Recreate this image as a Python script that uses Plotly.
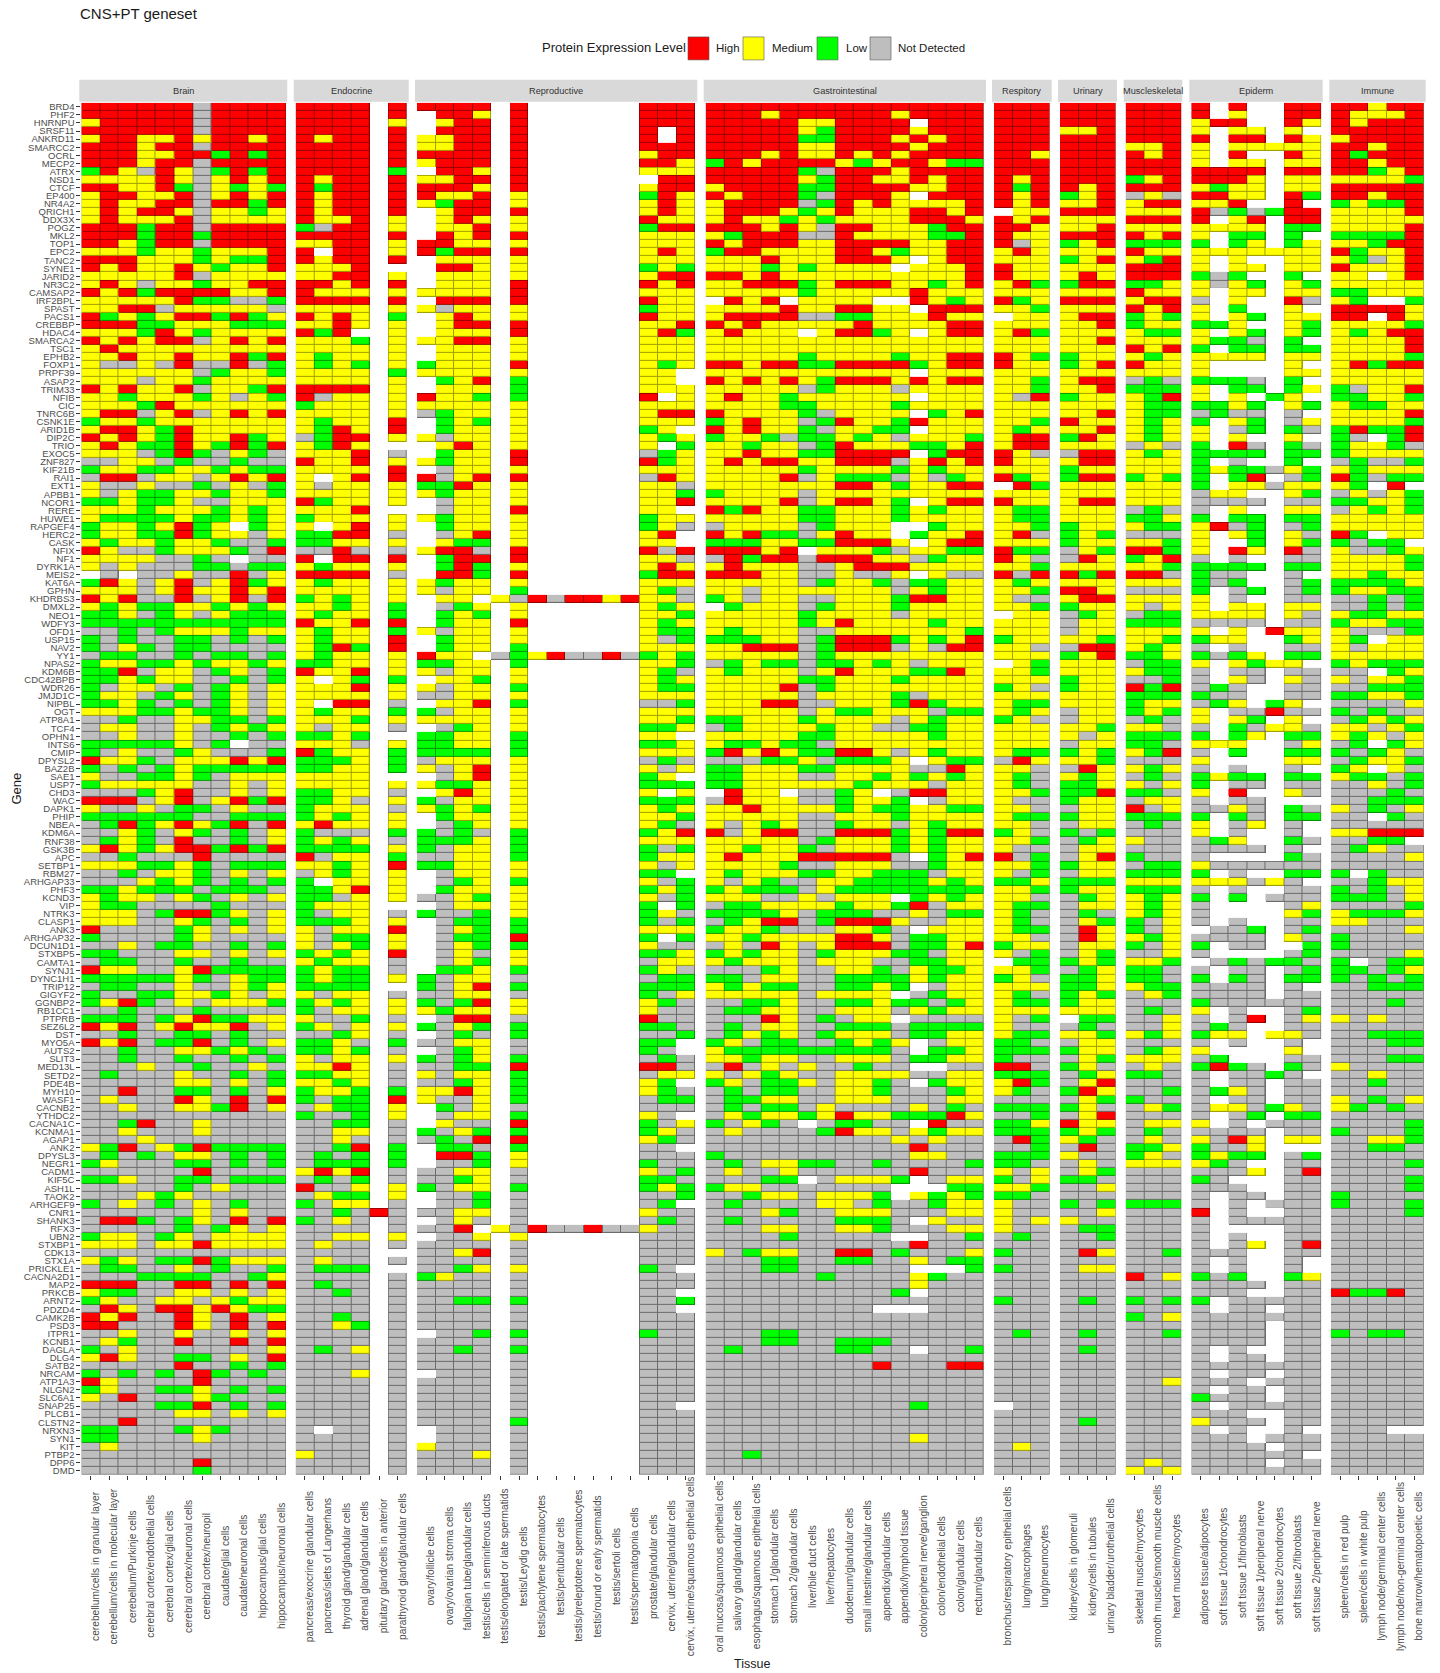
import plotly.graph_objects as go

GENES = """BRD4 PHF2 HNRNPU SRSF11 ANKRD11 SMARCC2 OCRL MECP2 ATRX NSD1 CTCF EP400 NR4A2 QRICH1 DDX3X POGZ MKL2 TOP1 EPC2 TANC2 SYNE1 JARID2 NR3C2 CAMSAP2 IRF2BPL SPAST PACS1 CREBBP HDAC4 SMARCA2 TSC1
EPHB2 FOXP1 PRPF39 ASAP2 TRIM33 NFIB CIC TNRC6B CSNK1E ARID1B DIP2C TRIO EXOC5 ZNF827 KIF21B RAI1 EXT1 APBB1 NCOR1 RERE HUWE1 RAPGEF4 HERC2 CASK NFIX NF1 DYRK1A MEIS2 KAT6A GPHN KHDRBS3 DMXL2 NEO1 WDFY3 OFD1 USP15 NAV2 YY1 NPAS2 KDM6B CDC42BPB WDR26 JMJD1C
NIPBL OGT ATP8A1 TCF4 OPHN1 INTS6 CMIP DPYSL2 BAZ2B SAE1 USP7 CHD3 WAC DAPK1 PHIP NBEA KDM6A RNF38 GSK3B APC SETBP1 RBM27 ARHGAP33 PHF3 KCND3 VIP NTRK3 CLASP1 ANK3 ARHGAP32 DCUN1D1 STXBP5 CAMTA1 SYNJ1 DYNC1H1 TRIP12 GIGYF2 GGNBP2 RB1CC1 PTPRB SEZ6L2 DST MYO5A
AUTS2 SLIT3 MED13L SETD2 PDE4B MYH10 WASF1 CACNB2 YTHDC2 CACNA1C KCNMA1 AGAP1 ANK2 DPYSL3 NEGR1 CADM1 KIF5C ASH1L TAOK2 ARHGEF9 CNR1 SHANK3 RFX3 UBN2 STXBP1 CDK13 STX1A PRICKLE1 CACNA2D1 MAP2 PRKCB ARNT2 PDZD4 CAMK2B PSD3 ITPR1 KCNB1 DAGLA DLG4 SATB2 NRCAM ATP1A3 NLGN2 SLC6A1 SNAP25 PLCB1 CLSTN2 NRXN3 SYN1 KIT PTBP2 DPP6 DMD""".split()

GROUPS = ["Brain", "Endocrine", "Reproductive", "Gastrointestinal", "Respitory", "Urinary", "Muscleskeletal", "Epiderm", "Immune"]

BRAIN_TISSUES = ["cerebellum/cells in granular layer", "cerebellum/cells in molecular layer", "cerebellum/Purkinje cells", "cerebral cortex/endothelial cells", "cerebral cortex/glial cells", "cerebral cortex/neuronal cells", "cerebral cortex/neuropil", "caudate/glial cells", "caudate/neuronal cells", "hippocampus/glial cells", "hippocampus/neuronal cells"]
ENDOCRINE_TISSUES = ["pancreas/exocrine glandular cells", "pancreas/islets of Langerhans", "thyroid gland/glandular cells", "adrenal gland/glandular cells", "pituitary gland/cells in anterior", "parathyroid gland/glandular cells"]
REPRODUCTIVE_TISSUES = ["ovary/follicle cells", "ovary/ovarian stroma cells", "fallopian tube/glandular cells", "testis/cells in seminiferous ducts", "testis/elongated or late spermatids", "testis/Leydig cells", "testis/pachytene spermatocytes", "testis/peritubular cells", "testis/preleptotene spermatocytes", "testis/round or early spermatids", "testis/sertoli cells", "testis/spermatogonia cells", "prostate/glandular cells", "cervix, uterine/glandular cells", "cervix, uterine/squamous epithelial cells"]
GI_TISSUES = ["oral mucosa/squamous epithelial cells", "salivary gland/glandular cells", "esophagus/squamous epithelial cells", "stomach 1/glandular cells", "stomach 2/glandular cells", "liver/bile duct cells", "liver/hepatocytes", "duodenum/glandular cells", "small intestine/glandular cells", "appendix/glandular cells", "appendix/lymphoid tissue", "colon/peripheral nerve/ganglion", "colon/endothelial cells", "colon/glandular cells", "rectum/glandular cells"]
RESP_TISSUES = ["bronchus/respiratory epithelial cells", "lung/macrophages", "lung/pneumocytes"]
URINARY_TISSUES = ["kidney/cells in glomeruli", "kidney/cells in tubules", "urinary bladder/urothelial cells"]
MUSCLE_TISSUES = ["skeletal muscle/myocytes", "smooth muscle/smooth muscle cells", "heart muscle/myocytes"]
EPIDERM_TISSUES = ["adipose tissue/adipocytes", "soft tissue 1/chondrocytes", "soft tissue 1/fibroblasts", "soft tissue 1/peripheral nerve", "soft tissue 2/chondrocytes", "soft tissue 2/fibroblasts", "soft tissue 2/peripheral nerve"]
IMMUNE_TISSUES = ["spleen/cells in red pulp", "spleen/cells in white pulp", "lymph node/germinal center cells", "lymph node/non-germinal center cells", "bone marrow/hematopoietic cells"]
TISSUES = [BRAIN_TISSUES, ENDOCRINE_TISSUES, REPRODUCTIVE_TISSUES, GI_TISSUES, RESP_TISSUES, URINARY_TISSUES, MUSCLE_TISSUES, EPIDERM_TISSUES, IMMUNE_TISSUES]

LEVEL_NAMES = ["High", "Medium", "Low", "Not Detected"]

# One string per gene, groups separated by spaces. H/M/L/N = level, . = no data.
ROW_LEVELS = """
HHHHHHNHHHH HHHH.H HHHH.H......HHH HHHHHHHHHHHHHHH HHH HHH HHH H.H..HH HHMHH
HHHHHHNHHHH HHHH.H .HHM.H......HHH HHHMHHHHHHMHHHH HHH HHH HHH H.M..HH HMMMH
MHHHHHNHHHH HHHH.M .MHH.H......HHH HHHHHMMHHHH.HHH HHH HHH HHH MHH..HM HMHHH
HHHHHHNHHHH HHHH.H .HHH.H......H.H HHHHHMLHHHHMHHH HHH MMH HHH M.MM.M. HHHHH
MHHMMHMHHMH HMHH.H MMHH.H......H.H HHHHHLLHHHMHMHH HHH HHH HHH H.HH.HM MHHHH
HHHMHHNHHHH HHHH.H MMHH.H......HHH HHHHHMMHHHHMHHH HHH HHH MMH M.MMMMM HHMHH
HHHMMHHLHLH HHHH.H HHHH.H......MHH HHHMHMMHMHMHHHH HHM HHH HMH M.H..HM HLHHH
HHHMHHNHHHH HHHH.H MHHH.H......HHM LHMHHHHMLMHHMLL HHH HHH HHH M.MM.MM HHMHH
LHMNHMNLHLH HHHH.L .HHM.H......MMM HHHHHLNHHHMHHHH HHH HHH HHH HHHH.HH HHLMH
MMMMHMNMHMH HMHH.H MMHH.H.......HH HHHHHMLHHMMHMHH HMH HHH LMH HHHM.MM MMMML
HHMMHLNMLML HLHH.H HHHM.H......MHH MHHHHLLHHHHMMHH HLH HMH HHH MLMM.MM HHHHH
MHHMMHNMHMH HMHH.H HMMH.M......LHM HMHHHLNHHHM.HHH HMH LMH NMN HHMM.HL HHMHH
MHMMHHNHHLH HMHH.H MLHH.M......MHM MHHHHNLHMHMMMMH HMH MMH MHH MMH..H. LMLLH
MHMHHMNMMLM HMHH.H .MHH.H......MHM MHHHMLMHMMMHHMH .MM HHH MMM HNLNLHH MMMMH
MHMMMHNMMMM HMMH.M .MHM.M......HMM MHMMLMLMMMMHHHM HMH MMM HHH H.MH.HH MMMMM
HHHLHHNHHHH LNHH.M .MMH.M......LHH HHHMHMNHHMMMLHH HHM MMH MMM MMMM.LL MMMMH
HHHLHHLHHHH HHHH.H .HMH.H......MMM MLHHHNNHMMMMLLH HMM HHH HMH M.LL.L. LLLLH
HHMLHHNHHHH MMHH.M HHMM.M......MMM HMHHHMMHHHHMMHH HNM LMH LLL L.LM.LM MMLHH
MMMLMMLMMMH H.HH.M HLHH.H......MHM LHHMMMMHHMLMMHH MHM MMM HMM MMMMMMM HLMMH
HHHMMMLMLLH HMHH.H .MMM.M......MMM MMMHMMMHHHM.MHH MMM LMH MLH M.M..MM MLNMH
HMHMMHMLMMH MMMH.. .HHM.M......LML MMMLMLMMMM.MMMH HMM MMM HHH M.MM.MM HMMMH
MMMMMHNMMMM MMHH.M .MMM.M......MHH HHMHMMMMMMMMMMH HMM MHM HHH LNL..L. MM.MH
MHMNMMLMMHH HHMH.H .MMM.H......HMH MMHHHLMHHHMMLMH MHL LHH LLM MNML.ML MMMMM
HMHLHHHHMMH HMMM.M MMMM.H......MMM MMMMMLMMMMMHMMM MMM MMM HMM M.MM.MM LLMMM
MMMMMHLLNNL HHHH.H .HHH.H......HMM .HMH.MMMM..HMLM HLM HHH MHH N.M..HN ML..L
MMHHNMMMMMN MMMM.M MNMM.M......LMM MMMMHMMHHMM.HHH MML MMM HMH M.L..M. HHHHM
HLMLMHHLHLM HMHM.L .MHM.M......HMM MHHHHNNLLMMMHMM .MM MHH LML M.ML.MM HH.HM
HHHLLMMMLLL MMHM.M .MHH.H......MMH HMHMMMMMHMMMMHH MMM MMH LMM LLM..ML MMMML
MMMLHMLMMMM HLH..M .MMM.H......MHL MHMMM.MHHLM.MHH MHL MMM MLL M.ML.ML MLMHH
HMHMHHNMHMH MMML.M MMHH.M......MMM MMMMMMMMMMMMMMM MMM MMH MMM MLLN.L. MMMMH
MHMMMMMMMMM MMMM.M .MMM.M......MMM MMMMMMMMMMMMMMM MMM MMM HMH L.LL.LL MMMMH
MMHMMHMMHLH MLMM.M .MMM.M......MMM MMMMMLMMMMLMMHH HML LMM MLM MMMM.MM MMMML
MNNMNHNNHNL MLML.M LMMM.H......MLM HHMHHLLHHHHLMHH HMM LMH HMM M....M. MHLHH
MMMMMMNLMML MMMM.L MMMM.M......MM. MMMMMMMMMMM.MMM MMM MMM MMM M....MM MMMMM
MMMNMMLMMMM MMMM.M .LMH.L......MM. HMHMHMLHHHMHMHH MML MHH NLN LLLN.L. MMMMM
HMHMMHNMMLH HHHH.M .MMM.L......MMM MMMMMNLMMMNMMMM MML MMH LLL M.LL.LM LNMMH
MMLMMMLMNML HNMM.M HMML.L......H.M MHMMLMMMMMM.MMM MNH LMM MLH M.M.LM. LLMML
MMMLHMMMMMM LMMM.M MMMM.M......MMM MMMMLLMMMMLMMMM MMM MMM MLL LLML.ML MLLMM
MHHNMHNMHMH MMMM.M NLMM.M......MHH HMMMMLNMMMM.LMH MMM MMH MLL NLNN.N. MMMMH
LMMLMMMMMMM MLMM.H .LML.M......MMM LMHMMNLHMMLHMMM MML HMM MLM L.ML.NM MMMML
MHHMLHMMMMM MLHM.H .LMM.M......LM. HMHMMLNMMLL.MMM MLM MMH MLM M.NL.LN LHLLH
HMHMLHMMHLM NLHH.M MNMM.M......MLM LMMLNLLMLMNMMML MHH LHM MLM M.M..M. LN.LH
MHMLLHMLHLH MLHM.. .MHM.M......M.L MMLMMNLHMMMLLMH MHH MMM NMN L.HN.LN LMMLN
MMMNLHLNMLN MMMH.N .LMM.H......NLM MMHMMLLHHHH.LHH HMN NHH MLM LLLL.LL LMMMM
NNMMNLNNLNN HMMH.M MLMM.H......HLM MHMHHMMHHHNMHMH HMM MHH MMM L.N..L. NLNNL
LMMLLMMLMLL MMMM.H .NMM.M......MMM MMMMMLMMMMLMLMM MMM LMM MMM LMLLNML MLMMM
NHHNMMNMHMH M.MH.H HNMH.H......NHM MMMMHNMLLLNMNLM HLM LHH LML L.LH.NL HLNLL
MNNMNNLNMNL MNMM.M LLHM.M......MMN MMMMMMMHHMLMMHH .HL MMM MMM L.MMNMM ML.H.
MNMLLMMLMML MMMM.M MLMM.M......MML LMMMMNMMMMMMMMM MMM MMM MMM NMM..ML NMNML
LLMLLMNNMMM HLMM.M .NMM.M......MMH MMMMHNMHHML.MHH HMM MHH MMM NNNN.NN LLMML
MMMLMMMLMLM MMMH.. .NMM.H......MM. HLHMMLLMMMLMLMM MLL MMM NLN N.M..MM NMLML
MLLLLMLLMLM LMMM.M MLMM.M......LMM MMMMMLLMMMLMMMM MLL MMM LLM L.LL.LL MMMMM
LMMLMHLM.LM M.MH.M .LMM.M......LMN NMMMMNLMMM..LMM MML LMM MLL MHNL.NL MMMMM
LMMLLHLMMNM LLHH.N .NMH.M......MH. HMHLLNMHMM.LMMH MHN LML NNN M.ML.MN HL.MM
MLMMLMMLNNL LLMM.M .MLL.M......MM. LLLMMLLHHHM.MHH MMM LMM MML M..L.ML LNLL.
HMNNLMMMLNH NNHN.N MHHN.H......HNH HHHMH.MMMLNMMLL HLL NML HHL M.HM.HN MNNLM
MMMMNNLN.NN H.HH.H .LHH.H......MMN NHLHHNHHHMMNLMM HMN NHM LMH N.N..NN MMMML
MNMNNNLLNLL MLMM.M .LHL.M......MHM MHMMMNNMHHHMMMM MML MMM MML LLLL.LL MMMML
.N.NNMNNHNM HHHH.N .HHL.H......LHH HHHMMNNMNNM.MNN HNH HLH HHN LNN..N. MMLMM
LHMNMHNMHLM MLMM.M MLMM.M......MMM MMMMMNLMMLNLLMM MLM MMM MMM LNL..NL LLLLM
MMMNMHMMHMH MMMM.M MNMM.L......MLN MMNMMMMMMMNMLMM MML HHM NNN L.NL.NL LMMLL
HMHNNHNMHNH LMLM.M .MM.MNHNHHMHMMN LMNMMNNMMMLHHMM MNN MHH MMM M.N..NN NNLNL
MLMLLMMLMLM MMLM.L .NLM.M......MLM .LMMMNLMMMLMMMM MML LMM MNM M.MM.MM NNLNL
LLMNLMNMLLL MLMM.L .LML.M......MML MMMMMLMMMMNMMMM .MM NLM NLL MMMM.MN MLLMM
LLLLLLLLLLL HMMH.H .LMM.H......MLM MMMMMLMHMMMMLMM MMM NMM LLL NNNN.NN LMMLL
NNLNLMMMLMM MLMM.L MNMM.M......MLL MLMMMNNMMMMMMML MMM NMM MMM M.M.HMM MNNNL
LNLNNLLNLNL MLMM.H .LMM.M......MNL LLLMMNLHHHLMLMH LMM MML MML LMM..LM ML.MM
LNMLNLLNNNN MLHL.H .LMM.L......MMM MMHHHNLHHHNMNHH MMN NHH MLM N.N..NN MNMMM
NLLNNLNLLNL MLMM.M HMM.NLMHNNHNLML MMMMMNLMMMMMMMM MMM LMH LLM LNLM.LL MMMMM
LMMLLMLMMLM LLMM.M LLMM.L......MML NLMLLNLLMLMNMMM .ML MMM NLL M.MLMM. LMLLL
LLHNMMNLMNL HMMH.M MNMM.M......MLN MLMMMNMHMMMLLHM MML MMM MLL N.NN.NN NN.LM
LLMLMMNNLNL M.ML.L .MML.M......MLM MMMMMLLMMMLMMMM MMM LMM NNL N.MN.MN MNMML
LNMMNLNLMNM MMMH.M MNMM.L......MLL MMMMHNLMMMMMMMM LMN LMM HLH NLN..NN NNLLL
LMMNLMNLMNM MMMM.M NNMM.M......MMM MMMMMNMMMMLNMMM MMM MMM LLL LNN..NN LLMML
LLMLNLNLMNM M.HH.N .MMH.L......NNL MMMHHNNMMMLHLMM MLL MMM LMM NLM.LM. NNNNM
MMMLLMLLMNM MLMM.L LNMM.M......MMM MMMMMNMLLMMMNLL MLM NMM LML M.NNHNN LNLNN
NNLNNMMLLNL MMML.M MMMM.M......MML LLMMMLMMMMNMLMM LMN NMM NLN M.ML.M. NLMLM
NMMNNMNLMLM MNMM.N .NLM.M......LLM NLMMMMLMMNNLLMM MMM MML MMN N.LNMMN MMNML
NNMNNMNNLNL LLML.. LLMM.L......MM. MMMMMLLMMMMMLMM MMM MNM LLL L.LM.LL MLMNM
LLLLLMNL.NN MMMN.M LLMM.L......LLM MLLMLLNMMMMMMMM MMM NMM LLN MMM..NM NL.LM
LNMNNLMNNNL HLMM.L LLLL.L......MMM LHMHMLLHHMNMLMM MLL LML MLH N.L..LL LNLMN
HMMLNMMMHMH LLLM.L NMMM.M......NLN NNNLLMNLLLM.MLL NHM MML NNN M....MM NLMML
LNLNLMLLLLL LLMM.L MNMH.M......MNM LLMMMLLMMMMNNHM MMN NHM MLM N.N..N. LM.MN
MNNLLMLNMMM MMMM.. .NMH.M......LM. LLMMMNNMMLMLMLM MLN MLM NLN LMLL.LL MLLNL
LMMMMMNNMNM MMMM.M MLLM.M......LLL LLMMMMMMLMMMNMM MLN LLM MNM L.NN.NN NNMNL
NNNLMHNNMNM LLMM.N .MHM.M......M.M .HMM.NNLM.NHHMM MML LLH LLN M.H..MN NNNLN
HHHNMHNMHLH LLMN.M LNMM.M......LLL NHMMMNNLMML.NMM MNN LMM NMM N.NN... NNLLL
MNNMNLLNMNN LMMM.N MLML.M......MLM MMHMMMMLMLLMMLL MMN NMM HNM NNMN.LN MNLNM
LLLLLLNNLLL LMLM.M .LMM.M......MML MMMMMNNMMMLMMMM MLL LMM LLL L.LN.LL NN.LN
NLHLMHMLHNH MHMM.M .NLM.M......MLN MNMLMNNLMMNMLMM MMN NMM NLN M.NM.N. NNNNN
NNMLNMLNLNM LNNN.L LNLN.L......LMH HNMHHNNHHHLMLHH LMN LNL NNN M.N..N. MMHHH
NLMLNHNNLNM LMLM.N LLLM.L......MMM MMMMMNLMMMLMLMM MML NLM MNN NLM..LN NNLL.
MHMLMHHLHLH LLLL.M LNMM.L......LNL MMLMMLNMMMLMLMM MNN NMM NNN NNNN.N. NLMNN
NNLNNNHNNNN HNMM.L NNMM.L......LMM MHMMMHHHHHN.LMH HNL NMH LNN N....LN NNNNM
MMMLLMLNLLL MMLM.H LLMM.M......MNM MMMMLNNMMMNNLMM MML LMM NLL MNNNNNN NNNNN
NNLNMMLNMNM NMLM.M .NMM.M......LL. MLMMMLLMMLLLNMM MNL NMM LLL L.N..LL L.LNN
NNNMLMLNLNL L.MM.M .NLM.L......MNL MNMLNNMMLLLLMLM LLM LLL MMM MMMNMN. NNLMM
LLMLLLNLLLN LLMH.M .LMM.M......LML LMLLLNMLLLLLLLL MML LMM LLL N.N..NN LNLNM
MLMMNMLNMNM LLNM.M NNML.M......MNL MMMNNMNMMM.LMLM MMN NLM MLM L.L.NNN LLLNM
MLLNNNNLNNN LMMM.. .NMM.M......L.L NLLMMMMLMMLHNMM MLL NMM MLM N....NM NNNNL
MMMNLHHLMNM LNMM.N LNNL.M......LMN LLLLMNLLLNNMNLL MLN NLN MLM N....ML MLLLM
MMMNNMLNLNM LLLM.M .NLL.L......LNL NLMHHNLHHHMNNMM MLN NML LNM N.N..NN MMNNN
HNNNNLMNMNM MNMM.H .NML.L......MMM LMMLNNNMMLN.MMM MLL NHM LNM .NNL.NL NNNNM
LNNNNLMNNNN MNLL.M .NLL.H......L.L MMLMMMMHHMNLLMM MMN NHM MLM NNNN.MN LNNNN
NNMNLLNNLNL MNML.M .NML.L......MNN NMNHMNMHHHNLLMH LMM NMM LNM L.NN..L LNNNN
LLNNNMMNMNM LMLM.H .NMN.M......LLM LMLMMNLMMMLLNMM MNL NML NNM N....NL NNNNM
NLLNNLNNLNN MLMM.N .NML.M......NMM MLMMMNMMMNNLLMM .LL LML MML .NLNLLN L.NLL
HMMNNMHLLLL LMLL.N .LLM.L......LMN NNNLMNNMMLNMLLM MML NLM LLN N.NN.NL LLNLM
LLLLLMLNMLL LMLL.M LNMM.N......NLL LLNMMNNLLLLMLMM LMN LLM LLN L.LN.LL LNLNL
NLLNNMNNMLM LLLL.. LNMH.L......LLL MLMLLNNLLML.NMM MMM LLM MLL NNNN.N. NNLLL
LNNLLMMLMNM MNMM.N NNMM.N......LNM MMMMMNMMMM.NLMM MLN LML NML NNNN.NN NNNNN
LMHLNMNMMML LMLM.M LNLH.M......MLN NNLLMNNLLMLLNLM MLL LMM NNN LNNNNNN NNNLN
NNLNNNLNNNN LNMM.M MLMM.M......MNN NLLMMNNMMMNMLMM MMM MMM NLN M.N..NL NNNNN
LLLNLMHLLMM MNNL.N .NHH.N......HNN NNNHMNLNMM.NNNN MNL .LL NNM N.NH.NM MNMNN
HMHNMHMMHNM LMNM.M LNML.L......LLN NLNMMNNLLLNLLLL MNN NLN NNM NLN..NN NNNNN
NNLNNLLNLNN NNLM.N .NLN.L......NNL NLMLMNLMMMNLLMM MLL MML MLM LMM.MMN NNLLL
HMHNLLHNLNM LLMN.L NNMM.N......LL. LMNLLNNLMLM.NMM LLN NMM NNN N.N..N. NNNLL
NNLNNMMLMLN LLML.N .NLM.N......LN. MLLLLLLLLLN.LLM LLL LMM NLM M....M. NNNNN
NNLNNLNNLNL MNMM.M LNLM.L......NLN MMLMMNNMMMNLLMM LNN NML MMM NL...NN NNNLL
NNNMNNLNNMN MMHM.N NNLL.H......HHN NHNMNMNNLNN..NN HHN LMN NMN LHLN.LN MNNNN
NLNNNMNNLNL LLMM.N MNMM.L......NMM MNMLMNNMMMMNNMM LLL NLM LLN N.NNLN. NNMNN
NNNNNMMNMNL MMLM.N NNLM.L......ML. LMNLLMNMMLN.LMM MHL NMH NNN N.NN.NN NNLNN
NNHNNLLNLNM LMML.L MMHM.L......MLN NLNLLNNMMLNNNLM MLN LHM NNL NLMN.NN NNNNN
NMNNNHMNHNH LNLL.H MNNM.L......NLL NLLMMNNMMMNNNMM NNN NML LNN N.NN.NN MNLNM
NNMNNMMLHNM NMLL.M .LNM.N......NNN NLNLLNMNNNNMNLN LLL LMN NML NMMNLMN MLNLN
NNNNNNNNNNN LNNL.M .NMM.L......MN. NMLMMLMHMMLLLHM NNL NMH NNN N.NL.LL NNNNN
NNLHNNMNNNN NNLL.N .MNN.H......LNM LNMLN.NLLNN.HNN LLM HMM NMM M.N.NNN NNNNL
NNMNNNMNNNN NNMM.N LNML.L......LMN NMNNNNLHMMNMLMM LLL LML NLN NNNN.NN LNNNL
NNNMNNNNNNN NNMN.N NLNH.H......MLN NNNNNNNNNNMNMNN NHL MLN NMN MNHM.MM NNMML
MLHNMLHLLLL NNLH.L .LLN.L......NN. NNNNNNNNNNNHNNN NNL NHN LLM LNNM... NNLLN
NLNLNMMNLNL NLNL.L .HHL.M......NNN LNNNNNNNNNNMMNN LLL MNN LMN LMLL.NL NNNNN
LMNNNLLNLNL NLLL.L .NNL.M......LNN NLNMMLLNNLNNNNL LLN NMN MMM MLN..NN NNNNL
NNNNNNHNNNN MHMH.N NNMM.N......MNL NMNNMNNNNNNHNNN MNM NML NNN NNNM.NH NNNNN
LLMNNLLNLLL NLNL.N NNLM.N......LLN NNNLL.NMMML.NMM LNM LLN NNN LN...NN NNNNL
NNNNNLNMNNN HNNM.M LNMM.L......LML LMMNNNNNNN...LL MML NNM NNN NNN..NN NNNNL
NNNMLMNNNNN NMLL.M .NNL.N......NNL NNLMMNMMML.MLML LLN NNN NNN N.NN.NN LNNNN
LNMNLNMNLNN LNMM.N .NNL.N......NL. NLNNNNMMNLNNLMM MNN LNL LLL N.N.NNN LNNNL
NNNNNNMNMNN NNLNHN NNMM.N......MNN NNNMLNNMMMNNNMM MNN NNM NNN H.N..NN NNNNL
NHHLNLMNHNH LNMN.N .NMN.N......NLN NLNNNNNLLLN.MNN MNM MNN NNN N.NNNNN NNNNN
NNNNNLNLMNM NNNN.N NNH.MNHNNHNNMNN NNNMMNNMMLNNNMM MNN NLL NNN N....NN NNNNN
LMMNLMNMMMM NNMM.M .NNM.M......NNN NNNNLNNNNN..NNL NLN NNL NNN N.N..NN NNNNN
MMMNMMHMMMM NMNN.N NNNN.N......NNN NNNNNNNNNNNHNNN NNN NNN NNN N.NM.NH NNNNN
NNNNNNNNNNN NNNN.. NNMH.N......NNN MNLMMNNHHNLNNNM LNN NHM NNL NNN..NN NNNNN
MLMNLLHLMMM NMNN.N NNNN.N......NNN NNNLLNNLLNNMNLL NNN NNN NNN N.N..N. NNNNN
NLLNNMNLNNL NLLL.. NNLM.M......LN. NNNLLNNNNNN...L LNN NMM NNN N.N..N. NNNNN
NNNLLLLNNLM NNNN.N LMNN.N......NNN NNNNNNLNNNNMLNN NNN NNN HNM LNL..LM NNNNN
HHHNNHHNHNH NLNN.N NNNN.N......NNN NNNNNNNNNNNMNNN NNN NNN NNN NNNN.NN NNNNN
MLLNNMMNMNM NNLN.N NNNN.N......NN. NNNNNNNNNNL.NNN NNN NNN NNN NNN..NN HLLHN
LMNNMMNMLMM NNNN.N NNLL.L......NNL NNNNNNNNNNNNNNN LNN NLN LNL L.NNNNN NNNNN
NHMNHHMHMLL NNNN.N NNNN.N......NN. NNNNNNNNN...NNN NNN NNN NNN N.NN.NN NNNNN
HMHNNHMNHNM NNLN.N NNNN.N......NNN NNNNNNNNNNNNNNN NNN NNN LNM NNNNNNN NNNNN
HHNNNHMNHNH NNML.N NNNN.N......NNN NNNNNNNNNNNNNNN NNN NNN NNN NNNN.NN NNNNN
NNMNNMNNMNM NNNN.N .NNL.L......LNN NNNLLNNNNNNNNNN NLN NLN NNL NNNN.NN LNLLN
NMLNNHNNHNH NNNN.N NNNN.N......NNN NNNLLNNLLLNNNNN NNN NNN NNN NNNN.NN NNNNN
LNMNNNNNNNM NLNM.N NNLN.L......NNN NLNNNNNLLNN.NNL NNN NLN NNN N.N..NN NNNNN
MHMNNLLNMNH NNNN.N NNNN.N......NNN NNNNNNNNNNNNNNN NNN NNN NNN N.NN.NN NNNNN
NNNNNHNNLNL NNNN.N NNNN.N......NNN NNNNNNNNNHNNNHH NNN NNN NNN NNNNNNN NNNNN
LNLNLNHLNLN NNNM.N .NNN.N......NNN NNNNNNNNNNNNNNN NNN NNN NNN N.NN.NN NNNNN
HMNNNNHNNNN NNNN.N NNNN.N......NNN NNNNNNNNNNNNNNN NNN NNN NNM NNN.NNN NNNNN
LMNNLLMNLNL NNNN.N NNNN.N......NNN NNNNNNNNNNNNNNN NNN NNN NNN N.NN.NN NNNNN
MNHNNNMLNNN NNNN.N NNNN.N......NNN NNNNNNNNNNNNNNN NNN NNN NNN LNNN.NN NNNNN
NNNNLLHNLNL NNNN.N NNNN.N......NN. NNNNNNNNNNNLNNN .NN NNN NNN N.NNNNN NNNNN
NNNNNMMNMNM NNNN.N NNNN.N......NNN NNNNNNNNNNNNNNN NNN NNN NNN NNN..NN NNNNN
NNHNNNNNNNN NNNN.N NNNN.L......NNN NNNNNNNNNNNNNNN NNN NLN NNN MNNN.NN NNNNN
LLNNNLMLNNN N.NN.N .NNN.N......NNN NNNNNNNNNNNNNNN NNN NNN NNN N.N..N. NNN..
LLNNNNMNNNN NNNN.N .NNN.N......NNN NNNNNNNNNNNMNNN NNN NNN NNN NNN.NNN NNNNN
NMNNNNNNNNN NNNN.N MNNN.N......NNN NNNNNNNNNNNNNNN NMN NNN NNN NNNN.NN NNNNN
NNNNNNNNNNN MNNN.N NNNM.N......NNN NNLNNNNNNNNNNNN NNN NNN NNN NNNNNN. NNNNN
NNNNNNHNNNN NNNN.N NNNN.N......NNN NNNNNNNNNNNNNNN NNN NNN NMN NNNN.NN NNNNN
NNNNNNLNNNN NNNN.N NNNN.N......NNN NNNNNNNNNNNNNNN NNN NNN MNM NNNNNNN NNNNN
""".split("\n")
ROW_LEVELS = [r for r in ROW_LEVELS if r.strip()]

W, H = 1440.0, 1673.0
FONT = "Liberation Sans"
TOP, BOTTOM = 101.0, 1475.3
# left pixel edge of each facet panel, its strip extent, and the column width
PANEL_LEFT = [81.4, 295.7, 417.0, 705.7, 994.0, 1060.0, 1125.7, 1191.4, 1331.0]
STRIP_EDGES = [(79.3, 287.3), (293.7, 408.7), (415.0, 697.3), (703.7, 986.0), (992.0, 1051.7), (1058.0, 1117.0), (1123.7, 1182.3), (1189.3, 1322.7), (1329.3, 1425.7)]
COL_W = [18.6] + [18.55] * 8

CODE = {"H": 0, "M": 1, "L": 2, "N": 3}
FILL = ["#ff0000", "#ffff00", "#00ff00", "#bebebe"]
EDGE = ["#960000", "#a0a000", "#009600", "#6c6c6c"]


def scale(cols):
    s = []
    for i, c in enumerate(cols):
        s += [[i / 4, c], [(i + 1) / 4, c]]
    return s


def px(x):
    return x / W


def py(y):
    return 1 - y / H


parsed = [r.split() for r in ROW_LEVELS]
fig = go.Figure()
layout = {}
annotations = []
shapes = []
for g, name in enumerate(GROUPS):
    tissues = TISSUES[g]
    n = len(tissues)
    z = []
    for parts in parsed:
        s = parts[g] if g < len(parts) else ""
        s = s.ljust(n, "N")[:n]
        z.append([CODE.get(ch) for ch in s])
    suffix = "" if g == 0 else str(g + 1)
    xa, ya = "x" + suffix, "y" + suffix
    for colors, gap in ((EDGE, 0), (FILL, 1)):
        fig.add_trace(go.Heatmap(
            z=z, x=tissues, y=GENES, xaxis=xa, yaxis=ya,
            zmin=0, zmax=3 + 1e-9, colorscale=scale(colors), showscale=False,
            xgap=gap, ygap=gap, hoverongaps=False,
            customdata=[[LEVEL_NAMES[v] if v is not None else "" for v in row] for row in z],
            hovertemplate="%{y}<br>%{x}<br>%{customdata}<extra></extra>",
        ))
    left = PANEL_LEFT[g]
    right = left + n * COL_W[g]
    layout["xaxis" + suffix] = dict(
        domain=[px(left), px(right)], anchor=ya, type="category",
        categoryorder="array", categoryarray=tissues, range=[-0.5, n - 0.5], autorange=False,
        tickmode="array", tickvals=tissues, showticklabels=False,
        ticks="outside", ticklen=4, tickwidth=1, tickcolor="#333333",
        showgrid=False, zeroline=False, showline=False, fixedrange=True,
    )
    layout["yaxis" + suffix] = dict(
        domain=[py(BOTTOM), py(TOP)], anchor=xa, type="category",
        categoryorder="array", categoryarray=GENES, range=[len(GENES) - 0.5, -0.5], autorange=False,
        tickmode="array", tickvals=GENES, ticktext=GENES,
        showticklabels=g == 0, ticks="outside" if g == 0 else "", ticklen=4, tickwidth=1,
        tickcolor="#333333", tickfont=dict(family=FONT, size=9.5, color="#4d4d4d"),
        showgrid=False, zeroline=False, showline=False, fixedrange=True,
    )
    s0, s1 = STRIP_EDGES[g]
    shapes.append(dict(type="rect", xref="paper", yref="paper", x0=px(s0), x1=px(s1), y0=py(100), y1=py(78),
                       fillcolor="#d9d9d9", line=dict(width=0), layer="below"))
    annotations.append(dict(text=name, xref="paper", yref="paper", x=px((s0 + s1) / 2), y=py(89.5),
                            showarrow=False, xanchor="center", yanchor="middle",
                            font=dict(family=FONT, size=9.2, color="#333333")))
    for t in tissues:
        annotations.append(dict(text=t, xref=xa, yref="paper", x=t, y=py(1567), xshift=4,
                                showarrow=False, textangle=-90, xanchor="center", yanchor="middle",
                                font=dict(family=FONT, size=10.2, color="#4d4d4d")))


def label(text, x, y, size, color="#1a1a1a", xanchor="left", angle=0):
    annotations.append(dict(text=text, xref="paper", yref="paper", x=px(x), y=py(y), showarrow=False,
                            xanchor=xanchor, yanchor="middle", textangle=angle,
                            font=dict(family=FONT, size=size, color=color)))


label("CNS+PT geneset", 77.5, 11.5, 15)
label("Gene", 17, 788, 13, xanchor="center", angle=-90)
label("Tissue", 752, 1665, 12.5, xanchor="center")
label("Protein Expression Level", 540, 46, 13)
SWATCH_X = [688, 743, 817, 870]
LABEL_X = [714, 770, 844, 896]
for i, nm in enumerate(LEVEL_NAMES):
    shapes.append(dict(type="rect", xref="paper", yref="paper", x0=px(SWATCH_X[i]), x1=px(SWATCH_X[i] + 21),
                       y0=py(58), y1=py(35), fillcolor=FILL[i], line=dict(color="#555555", width=0.6)))
    label(nm, LABEL_X[i], 46, 11.5)

fig.update_layout(
    width=1440, height=1673, margin=dict(l=0, r=0, t=0, b=0),
    paper_bgcolor="white", plot_bgcolor="white", showlegend=False,
    font=dict(family=FONT), annotations=annotations, shapes=shapes, **layout,
)
fig.write_html("out.html", config={"displayModeBar": False},
               post_script="document.body.style.margin='0';document.documentElement.style.overflow='hidden';")
